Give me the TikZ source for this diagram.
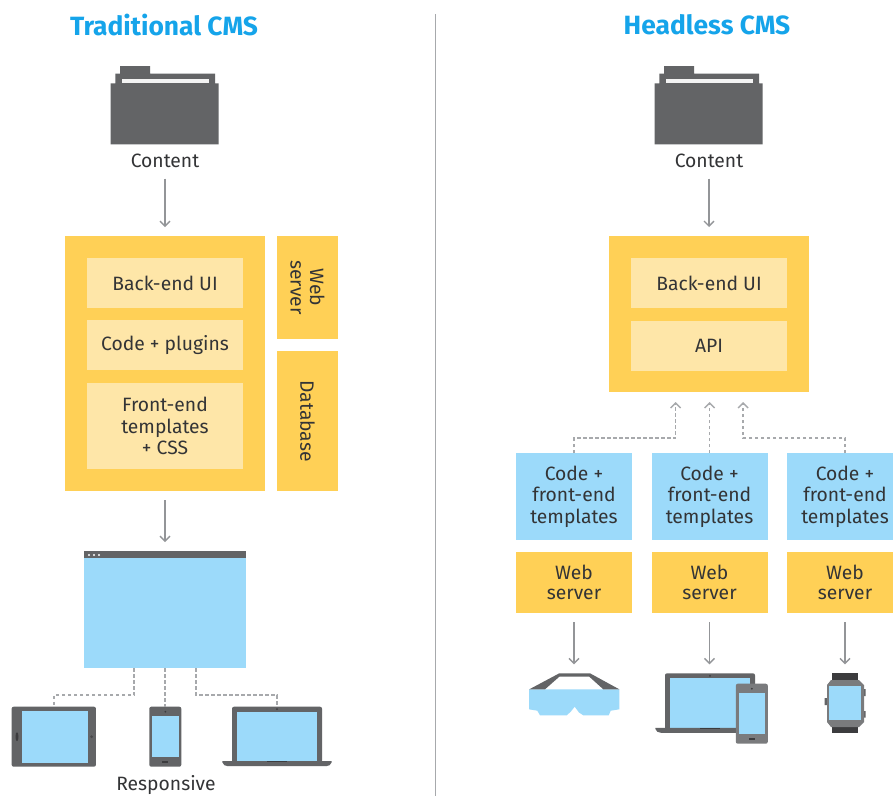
\documentclass[tikz,border=0pt]{standalone}
\usepackage{fontspec}
\setmainfont{Fira Sans}
\usetikzlibrary{arrows.meta}
\definecolor{cmsyellow}{HTML}{FFD056}
\definecolor{cmspale}{HTML}{FEE6A8}
\definecolor{cmsblue}{HTML}{9CDAFA}
\definecolor{cmsdark}{HTML}{636466}
\definecolor{cmsblack}{HTML}{3C3C3E}
\definecolor{cmstext}{HTML}{333436}
\definecolor{cmstitle}{HTML}{15A4EA}
\definecolor{cmsline}{HTML}{939598}
\definecolor{cmsdash}{HTML}{A7A9AC}
\tikzset{
  x=1pt, y=-1pt,
  >={Straight Barb[length=5pt,width=10pt]},
  box/.style={inner sep=0pt, outer sep=0pt, align=center, text=cmstext,
    font=\fontsize{19.3}{21.5}\selectfont},
  outerbox/.style={box, fill=cmsyellow},
  palebox/.style={box, fill=cmspale, minimum width=156, minimum height=50},
  codebox/.style={box, fill=cmsblue, minimum width=116, minimum height=87},
  webbox/.style={box, fill=cmsyellow, minimum width=116, minimum height=61,
    font=\fontsize{19.3}{19.5}\selectfont},
  title/.style={inner sep=0pt, text=cmstitle, font=\fontsize{26.4}{30}\bfseries\selectfont},
  caption/.style={box, minimum height=36},
  flow/.style={->, cmsline, line width=1.3pt, shorten >=9pt},
  dashline/.style={cmsdash, line width=1.4pt, dash pattern=on 3.5pt off 2.5pt},
  case/.style={inner sep=0pt, outer sep=0pt, fill=cmsdark, rounded corners=2pt},
  screen/.style={inner sep=0pt, outer sep=0pt, fill=cmsblue},
  folder/.pic={
    \fill[cmsdark] (-45,-35.7) rectangle (-15,-28)
                   (-49.7,-28) rectangle (50,-18)
                   (-54.3,-18.3) rectangle (53.7,42.7);
    \fill[white!92!cmsdark] (-43.3,-22.7) rectangle (43.7,-18.3);
  },
  handset/.pic={
    \node[case, minimum width=32, minimum height=60] (case) at (0,0) {};
    \node[screen, minimum width=26.6, minimum height=41.3] at (0,0) {};
    \fill[cmsblack] (0,-25) circle (1pt);
    \fill[cmsblack] (-3,24) rectangle (3,26.5);
  },
  notebook/.pic={
    \node[case, anchor=north, minimum width=90, minimum height=56] (lid) at (0,0) {};
    \node[screen, anchor=north, minimum width=80.6, minimum height=50] at (0,5) {};
    \fill[cmsdark] (-54.7,54.5) -- (54.7,54.5) -- (54.7,55.5)
      .. controls (54,58) and (52,59.5) .. (49,59.5) -- (-49,59.5)
      .. controls (-52,59.5) and (-54,58) .. (-54.7,55.5) -- cycle;
    \fill[cmsblack] (-10,54.3) rectangle (10,55.5);
    \fill[cmsblack] (0,2.5) circle (1pt);
  }
}
\begin{document}
\begin{tikzpicture}
\useasboundingbox (0,0) rectangle (893,796);
\fill[white] (0,0) rectangle (893,796);
\draw[cmsdash, line width=0.8pt] (435.5,14) -- (435.5,796);
\node[title] (tradtitle) at (164,25) {Traditional CMS};
\node[title] (headtitle) at (707,25) {Headless CMS};

\pic at (165,101.7) {folder};
\node[caption] (tradcontent) at (165,160.5) {Content};
\node[outerbox, minimum width=200, minimum height=255] (tradouter) at (165,363.5) {};
\node[palebox] (tradback) at (165,283) {Back-end UI};
\node[palebox] (tradcode) at (165,345) {Code + plugins};
\node[palebox, minimum height=86] (tradfront) at (165,426) {Front-end\\templates\\+ CSS};
\node[outerbox, minimum width=61, minimum height=103, rotate=0] (tradweb) at (307.5,287.5) {};
\node[box, rotate=-90, font=\fontsize{19.3}{19.5}\selectfont] at (tradweb.center) {Web\\server};
\node[outerbox, minimum width=61, minimum height=140] (traddb) at (307.5,421) {};
\node[box, rotate=-90] at (traddb.center) {Database};
\node[screen, minimum width=162, minimum height=117] (browser) at (165,609.5) {};
\fill[cmsdark] (browser.north west) rectangle ([yshift=-7pt]browser.north east);
\foreach \dotx in {89,94,99}
  \fill[white] (\dotx,555) circle (1.2pt);

\node[case, minimum width=84.3, minimum height=60] (tablet) at (53.8,736.7) {};
\node[screen, minimum width=66, minimum height=52.3] at (55,736.8) {};
\fill[cmsblack] (17,736.7) ellipse (1.5pt and 4.5pt);
\fill[cmsblack!70!cmsdark] (91.7,736.7) circle (1.5pt);
\pic (left) at (165.3,736.7) {handset};
\pic (left) at (277,706.7) {notebook};
\node[box] (responsive) at (166,785.5) {Responsive};

\draw[flow] (tradcontent.south) -- (tradouter.north);
\draw[flow, shorten <=9pt] (tradouter.south) -- (browser.north);
\draw[dashline] ([xshift=-31pt]browser.south) -- ++(0,27) -| (tablet.north);
\draw[dashline] (browser.south) -- (browser.south |- leftcase.north);
\draw[dashline] ([xshift=31pt]browser.south) -- ++(0,27) -| (leftlid.north);

\pic at (709,101.7) {folder};
\node[caption] (headcontent) at (709,160.5) {Content};
\node[outerbox, minimum width=200, minimum height=156] (headouter) at (708.5,314) {};
\node[palebox] (headback) at (709,283) {Back-end UI};
\node[palebox] (headapi) at (709,345.5) {API};

\node[codebox] (codea) at (574,496.5) {Code +\\front-end\\templates};
\node[codebox] (codeb) at (709.5,496.5) {Code +\\front-end\\templates};
\node[codebox] (codec) at (845,496.5) {Code +\\front-end\\templates};
\node[webbox] (weba) at (574,582.5) {Web\\server};
\node[webbox] (webb) at (709.5,582.5) {Web\\server};
\node[webbox] (webc) at (845,582.5) {Web\\server};

\draw[flow] (headcontent.south) -- (headcontent.south |- headouter.north);
\draw[dashline, ->, shorten >=10pt] (codea.north) -- ++(0,-15) -| ([xshift=-33pt]headouter.south);
\draw[dashline, ->, shorten >=10pt] (codeb.north) -- (codeb.north |- headouter.south);
\draw[dashline, ->, shorten >=10pt] (codec.north) -- ++(0,-15) -| ([xshift=34.5pt]headouter.south);

\coordinate (glasstop) at (574,673.3);
\fill[cmsblue] (529,689.3) -- (619.3,689.3) -- (619.3,709.3) -- (610.7,710.7)
  -- (608.7,715.3) -- (583.3,715.3) -- (579,712.5) -- (574.7,706.7)
  -- (570.7,711.7) -- (566.7,715.3) -- (540,715.3) -- (537.3,710.7)
  -- (529,709.3) -- cycle;
\fill[cmsdark] (529.3,689.3) -- (559.3,673.3) -- (590,673.3) -- (619.3,689.3)
  -- (603.3,689.3) -- (589.3,676.7) -- (559.3,676.7) -- (545,689.3) -- cycle;

\pic (right) at (710,673.3) {notebook};
\begin{scope}[case/.append style={fill=cmsdark!85!white}]
\pic (right) at (751.8,713.7) {handset};
\end{scope}

\node[inner sep=0pt, outer sep=0pt, fill=cmsblack, minimum width=26, minimum height=60] (band) at (845,703.3) {};
\fill[cmsdark] (824.5,698) rectangle (828,705) (862,689) rectangle (865.5,696)
  (862,711) rectangle (865.5,717.5);
\fill[cmsdark!85!white] (831,680) -- (859,680) -- (864,685) -- (864,722) -- (859,727)
  -- (831,727) -- (827,722) -- (827,685) -- cycle;
\node[screen, minimum width=32, minimum height=34] at (845,703) {};

\draw[flow, shorten <=9pt] (weba.south) -- (glasstop);
\draw[flow, shorten <=9pt] (webb.south) -- (webb.south |- rightlid.north);
\draw[flow, shorten <=9pt] (webc.south) -- (band.north);
\end{tikzpicture}
\end{document}
